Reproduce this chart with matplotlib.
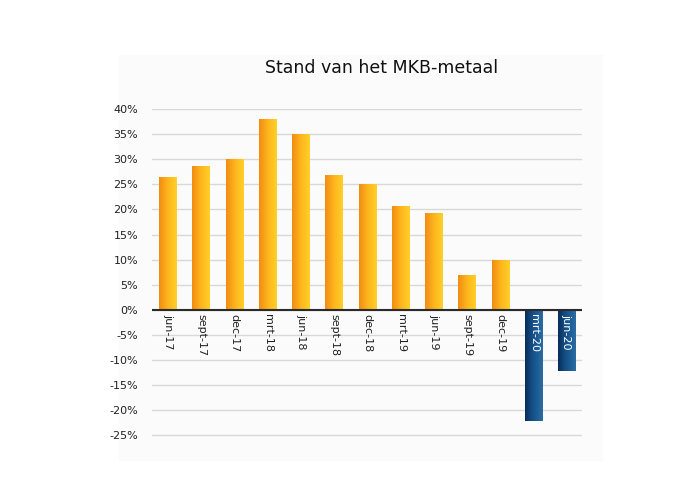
import numpy as np
import matplotlib.pyplot as plt
from matplotlib.colors import LinearSegmentedColormap

# Data
periods = ['jun-17', 'sept-17', 'dec-17', 'mrt-18', 'jun-18', 'sept-18', 'dec-18',
           'mrt-19', 'jun-19', 'sept-19', 'dec-19', 'mrt-20', 'jun-20']
values = [26.5, 28.7, 30.0, 38.0, 35.0, 26.9, 25.0, 20.6, 19.2, 7.0, 10.0, -22.2, -12.1]
yticks = list(range(-25, 45, 5))

orange = LinearSegmentedColormap.from_list('orange', ['#f28c14', '#fdb51c', '#ffd02a'])
blue = LinearSegmentedColormap.from_list('blue', ['#092b58', '#134a80', '#1c5c94', '#2a6ca3'])

fig = plt.figure(figsize=(7, 5), dpi=100)
bg = plt.Rectangle((0.17, 0.08), 0.69, 0.81, transform=fig.transFigure,
                   color='#fbfbfb', zorder=-1)
fig.add_artist(bg)
ax = fig.add_axes([0.217, 0.126, 0.614, 0.656])
ax.patch.set_alpha(0)

x = np.arange(len(periods))
bars = ax.bar(x, values, width=0.52, color='none', zorder=3)

# gradient fill for each bar, dark on the left, light on the right
grad = np.linspace(0, 1, 64).reshape(1, -1)
for b, v in zip(bars, values):
    x0, w = b.get_x(), b.get_width()
    cmap = orange if v >= 0 else blue
    im = ax.imshow(grad, cmap=cmap, aspect='auto',
                   extent=(x0, x0 + w, min(0, v), max(0, v)),
                   origin='lower', zorder=3)
    im.set_clip_path(b)

ax.set_xlim(-0.48, len(periods) - 0.55)
ax.set_ylim(-25.3, 40)
ax.set_yticks(yticks)
ax.set_yticklabels([f'{t}%' for t in yticks], fontsize=8, color='#222222')
ax.set_xticks([])
ax.tick_params(axis='y', length=0, pad=10)
ax.grid(axis='y', color='#d8d8d8', linewidth=1, zorder=1)
ax.axhline(0, color='#2a2a2a', linewidth=1.5, zorder=4)
for s in ax.spines.values():
    s.set_visible(False)

# category labels just below the zero line
for xi, lab, v in zip(x, periods, values):
    ax.text(xi, -0.8, lab, rotation=270, ha='center', va='top', fontsize=8,
            color='white' if v < 0 else '#222222', zorder=5)

fig.text(0.545, 0.864, 'Stand van het MKB-metaal', ha='center', va='center',
         fontsize=12.5, color='#111111')

plt.savefig('out.png')
